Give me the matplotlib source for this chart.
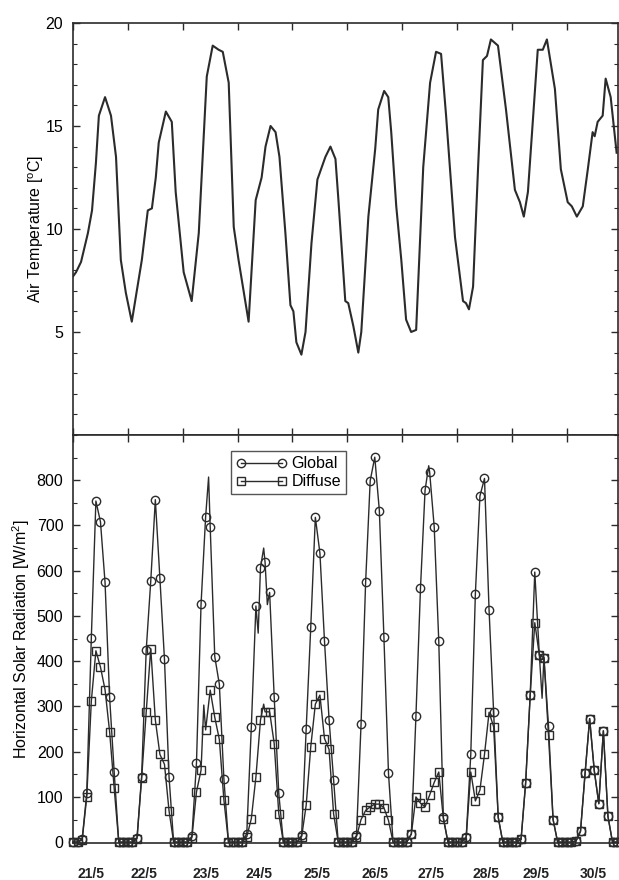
import numpy as np
import matplotlib
matplotlib.use('Agg')
import matplotlib.pyplot as plt
from matplotlib.ticker import MultipleLocator, FixedLocator, NullFormatter

plt.rcParams['font.family'] = ['Liberation Sans', 'DejaVu Sans']
plt.rcParams['mathtext.default'] = 'regular'

# air temperature (hours since 21/5 00:00)
temp_hours = [0, 1.3, 3.5, 6.5, 8.3, 10.0, 11.3, 14.0, 16.6, 18.8, 20.9, 23.1,
              25.7, 30.1, 32.7, 34.5, 36.2, 37.5, 40.6, 43.2, 44.9, 48.4,
              51.9, 55.0, 58.5, 61.1, 63.7, 65.5, 68.1, 70.3, 72.4, 76.8,
              79.9, 82.5, 84.2, 86.4, 88.6, 90.3, 92.9, 95.1, 96.4, 97.7,
              99.9, 101.7, 104.3, 106.9, 110.4, 112.6, 114.8, 116.1, 119.1,
              120.4, 122.6, 124.8, 126.1, 129.2, 132.2, 133.5, 136.1, 137.9,
              139.2, 141.4, 143.6, 145.7, 147.9, 150.1, 153.2, 156.2, 158.8,
              161.0, 163.2, 167.1, 170.6, 171.9, 173.2, 175.0, 177.2, 179.3,
              181.1, 182.8, 185.9, 189.4, 193.3, 195.5, 197.2, 199.0, 203.3,
              205.5, 207.3, 210.8, 213.4, 216.4, 218.2, 220.4, 223.0, 225.2,
              227.3, 228.2, 229.5, 231.7, 233.0, 235.2, 237.8]
temp_values = [7.7, 7.9, 8.4, 9.8, 10.9, 13.2, 15.5, 16.4, 15.5, 13.5, 8.5, 6.9,
               5.5, 8.5, 10.9, 11.0, 12.5, 14.2, 15.7, 15.2, 11.8, 7.9,
               6.5, 9.8, 17.4, 18.9, 18.7, 18.6, 17.1, 10.1, 8.5, 5.5,
               11.4, 12.5, 14.0, 15.0, 14.7, 13.5, 9.8, 6.3, 6.0, 4.5,
               3.9, 5.0, 9.3, 12.4, 13.5, 14.0, 13.4, 11.4, 6.5,
               6.4, 5.3, 4.0, 5.0, 10.6, 13.9, 15.8, 16.7, 16.4,
               14.7, 11.1, 8.5, 5.6, 5.0, 5.1, 13.0, 17.1, 18.6,
               18.5, 15.5, 9.6, 6.5, 6.4, 6.1, 7.2, 13.0, 18.2,
               18.4, 19.2, 18.9, 15.8, 11.9, 11.3, 10.6, 11.8, 18.7,
               18.7, 19.2, 16.8, 12.9, 11.3, 11.1, 10.6, 11.1, 12.9,
               14.7, 14.5, 15.2, 15.5, 17.3, 16.4, 13.7]

# 2-hourly radiation (0h, 2h, ..., 22h), one row per day 21/5 .. 30/5
global_rad = [
    0, 0, 7, 108, 452, 754, 708, 574, 320, 155, 0, 0,
    0, 0, 10, 145, 424, 577, 757, 583, 404, 144, 0, 0,
    0, 0, 13, 175, 526, 719, 697, 410, 349, 139, 0, 0,
    0, 0, 19, 255, 522, 607, 619, 552, 321, 108, 0, 0,
    0, 0, 15, 251, 476, 718, 639, 445, 271, 137, 0, 0,
    0, 0, 15, 261, 575, 799, 851, 733, 453, 152, 0, 0,
    0, 0, 18, 278, 562, 778, 818, 697, 444, 55, 0, 0,
    0, 0, 12, 194, 548, 765, 804, 513, 287, 55, 0, 0,
    0, 0, 6, 131, 326, 597, 413, 408, 257, 50, 0, 0,
    0, 0, 2, 24, 152, 273, 159, 85, 246, 57, 0, 0,
]
diffuse_rad = [
    0, 0, 5, 100, 312, 423, 387, 337, 244, 119, 0, 0,
    0, 0, 8, 141, 287, 428, 270, 194, 172, 69, 0, 0,
    0, 0, 10, 111, 159, 248, 336, 276, 227, 93, 0, 0,
    0, 0, 12, 52, 144, 270, 288, 288, 218, 63, 0, 0,
    0, 0, 12, 82, 211, 305, 325, 229, 205, 62, 0, 0,
    0, 0, 12, 50, 70, 78, 84, 84, 76, 48, 0, 0,
    0, 0, 18, 100, 86, 78, 104, 132, 155, 52, 0, 0,
    0, 0, 10, 155, 91, 115, 194, 287, 255, 55, 0, 0,
    0, 0, 6, 131, 326, 485, 413, 408, 236, 50, 0, 0,
    0, 0, 2, 24, 152, 273, 159, 85, 246, 57, 0, 0,
]
# short peaks/dips of the recorded line between two markers
global_extra_h = [59.3, 81.0, 83.4, 85.0, 155.6]
global_extra_v = [807, 462, 650, 525, 832]
diffuse_extra_h = [57.2, 83.4, 205.2]
diffuse_extra_v = [303, 305, 318]

day_labels = ['21/5', '22/5', '23/5', '24/5', '25/5', '26/5', '27/5', '28/5', '29/5', '30/5']
day_label_h = [7.9, 31.0, 58.2, 81.3, 106.7, 132.0, 156.5, 180.5, 202.4, 227.8]

ink = '#2b2b2b'
hours2 = np.arange(len(global_rad)) * 2.0


def merged(base, extra_h, extra_v):
    t = np.concatenate([hours2, extra_h])
    v = np.concatenate([base, extra_v])
    order = np.argsort(t, kind='stable')
    t, v = t[order], v[order]
    return t, v, (t % 2 == 0)


def style_axes(ax):
    for s in ax.spines.values():
        s.set_color(ink)
        s.set_linewidth(1.2)
    ax.tick_params(which='both', direction='in', colors=ink, labelcolor='black',
                   labelsize=11.5)
    ax.tick_params(which='major', length=5, width=1)
    ax.tick_params(which='minor', length=3, width=0.8)


fig = plt.figure(figsize=(6.19, 8.8), dpi=100)

# --- air temperature ---
ax1 = fig.add_axes([0.118, 0.5057, 0.880, 0.4682])
ax1.plot(temp_hours, temp_values, color=ink, lw=1.5)
ax1.set_xlim(0, 238.3)
ax1.set_ylim(0, 20)
ax1.yaxis.set_major_locator(FixedLocator([5, 10, 15, 20]))
ax1.yaxis.set_minor_locator(MultipleLocator(1))
ax1.xaxis.set_major_locator(MultipleLocator(24))
ax1.xaxis.set_major_formatter(NullFormatter())
style_axes(ax1)
ax1.tick_params(axis='y', which='both', left=True, right=True, pad=7)
ax1.tick_params(axis='x', which='both', top=True, bottom=True)
ax1.set_ylabel('Air Temperature [$^o$C]', fontsize=11.5, labelpad=0)

# --- solar radiation ---
ax2 = fig.add_axes([0.118, 0.0415, 0.880, 0.4642])
tg, vg, mg = merged(global_rad, global_extra_h, global_extra_v)
td, vd, md = merged(diffuse_rad, diffuse_extra_h, diffuse_extra_v)
ax2.plot(td, vd, color=ink, lw=1.0, marker='s', ms=5.5, mfc='none', mec=ink,
         mew=1.0, markevery=list(md), label='Diffuse', clip_on=False)
ax2.plot(tg, vg, color=ink, lw=1.0, marker='o', ms=6, mfc='none', mec=ink,
         mew=1.0, markevery=list(mg), label='Global', clip_on=False)
ax2.set_xlim(0, 238.3)
ax2.set_ylim(-3, 900)
ax2.yaxis.set_major_locator(FixedLocator(np.arange(0, 801, 100)))
ax2.yaxis.set_minor_locator(MultipleLocator(50))
ax2.xaxis.set_major_locator(MultipleLocator(24))
ax2.xaxis.set_major_formatter(NullFormatter())
style_axes(ax2)
ax2.tick_params(axis='y', which='both', left=True, right=True, pad=7)
ax2.tick_params(axis='x', which='both', top=True, bottom=False)
ax2.set_ylabel('Horizontal Solar Radiation [W/m$^2$]', fontsize=11.5, labelpad=3)

for lab, h in zip(day_labels, day_label_h):
    ax2.text(h, -0.075, lab, transform=ax2.get_xaxis_transform(), ha='center',
             va='center', fontsize=10, fontweight='bold', color='#222222')

handles, labels = ax2.get_legend_handles_labels()
leg = ax2.legend(handles[::-1], labels[::-1], loc='upper left',
                 bbox_to_anchor=(0.29, 0.96), numpoints=2, handlelength=3.2,
                 fontsize=11.5, frameon=True, fancybox=False, borderpad=0.3,
                 labelspacing=0.2, handletextpad=0.3, borderaxespad=0)
leg.get_frame().set_edgecolor(ink)
leg.get_frame().set_linewidth(1.0)

fig.savefig('out.png', dpi=100)
